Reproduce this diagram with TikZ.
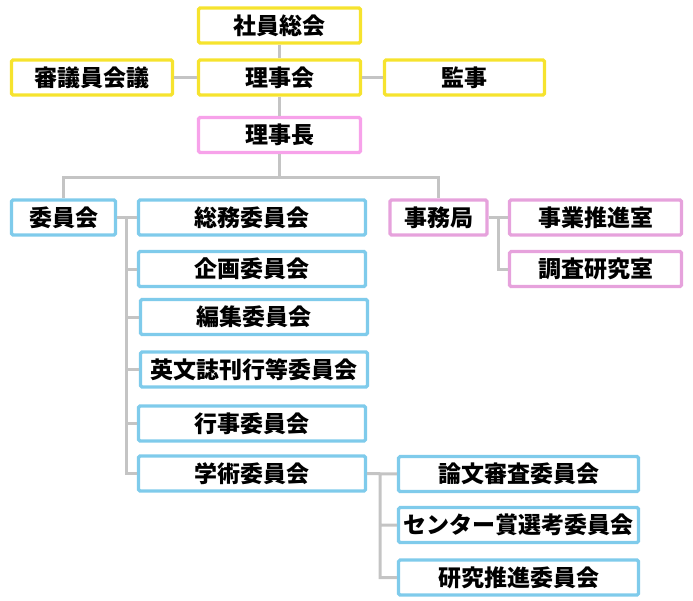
\documentclass[tikz,border=0pt]{standalone}
\usepackage{fontspec}
\setmainfont{Noto Sans CJK JP}
\usepackage{tikz}

\definecolor{ylw}{HTML}{F6E32E}
\definecolor{pnk}{HTML}{F7A2EA}
\definecolor{mauve}{HTML}{E6A2DC}
\definecolor{sky}{HTML}{7FCBEB}
\definecolor{lgray}{HTML}{C4C4C4}

\begin{document}
\begin{tikzpicture}[x=1pt,y=-1pt,
  box/.style={draw, line width=3.2pt, rounded corners=1.5pt, inner sep=0pt,
    minimum height=35pt, font=\fontsize{23}{23}\selectfont\bfseries},
  ybox/.style={box, draw=ylw},
  pbox/.style={box, draw=pnk},
  mbox/.style={box, draw=mauve},
  bbox/.style={box, draw=sky},
  link/.style={draw=lgray, line width=3pt}]
\useasboundingbox (0,0) rectangle (693,600);

\node[ybox, minimum width=162pt] (soukai)  at (279.5,25.5) {社員総会};
\node[ybox, minimum width=161pt] (shingi)  at (92,77.5)  {審議員会議};
\node[ybox, minimum width=162pt] (rijikai) at (279.5,77.5) {理事会};
\node[ybox, minimum width=160pt] (kanji)   at (464.5,77.5) {監事};
\node[pbox, minimum width=162pt] (rijicho) at (279.5,135) {理事長};

\node[bbox, minimum width=104pt] (iinkai) at (63.5,217.5) {委員会};
\node[bbox, minimum width=227pt] (somu)   at (252,217.5)  {総務委員会};
\node[bbox, minimum width=227pt] (kikaku) at (252,269)    {企画委員会};
\node[bbox, minimum width=227pt] (henshu) at (254,317)    {編集委員会};
\node[bbox, minimum width=227pt] (eibun)  at (254,369.5)  {英文誌刊行等委員会};
\node[bbox, minimum width=227pt] (gyoji)  at (252,423.5)  {行事委員会};
\node[bbox, minimum width=227pt] (gaku)   at (252,473.5)  {学術委員会};

\node[bbox, minimum width=240pt] (ronbun) at (518.5,474)  {論文審査委員会};
\node[bbox, minimum width=240pt] (center) at (518.5,525)  {センター賞選考委員会};
\node[bbox, minimum width=240pt] (kenkyu) at (518.5,577.5){研究推進委員会};

\node[mbox, minimum width=97pt]  (jimu)   at (438.5,217.5) {事務局};
\node[mbox, minimum width=172pt] (jigyo)  at (595.5,217.5) {事業推進室};
\node[mbox, minimum width=172pt] (chosa)  at (595.5,269)   {調査研究室};

\coordinate (bus) at (279.5,177);
\coordinate (trk) at (126,217.5);
\coordinate (jtrk) at (498,217.5);
\coordinate (gtrk) at (380,474);

\path[link] (soukai) -- (rijikai)
  (shingi) -- (rijikai) (rijikai) -- (kanji)
  (rijikai) -- (rijicho)
  (rijicho) -- (bus)
  (iinkai.north) |- (bus) -| (jimu.north);
\path[link] (iinkai) -- (somu)
  (trk) |- (gaku.west)
  (trk |- kikaku) -- (kikaku.west)
  (trk |- henshu) -- (henshu.west)
  (trk |- eibun) -- (eibun.west)
  (trk |- gyoji) -- (gyoji.west);
\path[link] (jimu) -- (jigyo)
  (jtrk) |- (chosa.west);
\path[link] (gaku) -- (ronbun)
  (gtrk) |- (kenkyu.west)
  (gtrk |- center) -- (center.west);
\end{tikzpicture}
\end{document}
